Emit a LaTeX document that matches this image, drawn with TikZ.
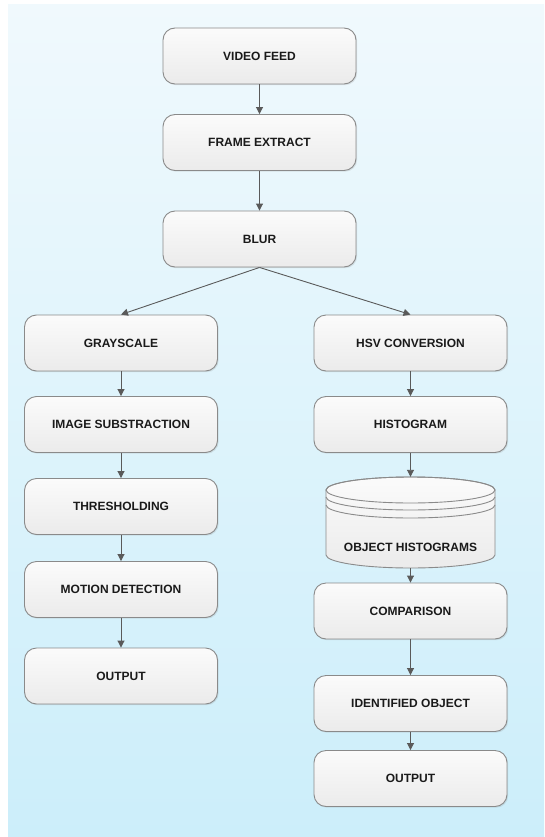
\documentclass[tikz,border=0pt]{standalone}
\usepackage{fontspec}
\setmainfont{Liberation Sans}
\usetikzlibrary{arrows.meta,shadows}

\definecolor{bgtop}{HTML}{F0F9FD}
\definecolor{bgbot}{HTML}{CCEEFA}
\definecolor{boxtop}{HTML}{FBFBFB}
\definecolor{boxbot}{HTML}{EBEBEB}
\definecolor{boxline}{HTML}{8A8A8A}
\definecolor{flow}{HTML}{5A5A5A}
\definecolor{ink}{HTML}{1A1A1A}

\tikzset{
  boxtext/.style={font=\fontsize{12}{14}\selectfont\bfseries, text=ink},
  stepbox/.style={boxtext, rectangle, rounded corners=12pt, draw=boxline,
    line width=0.9pt, top color=boxtop, bottom color=boxbot,
    minimum width=193pt, minimum height=56pt,
    drop shadow={opacity=0.18, shadow xshift=1.2pt, shadow yshift=-1.2pt}},
  flowarrow/.style={-{Triangle[length=7pt,width=7pt]}, draw=flow, line width=0.9pt},
}

\begin{document}
\begin{tikzpicture}[x=1pt,y=-1pt]
  % canvas 544 x 837 px, y runs downwards
  \useasboundingbox (0,0) rectangle (544,837);
  \fill[white] (0,0) rectangle (544,837);
  \shade[top color=bgtop, bottom color=bgbot] (8,5) rectangle (544,836);

  % -- common trunk --
  \node[stepbox] (video) at (259.5,56)  {VIDEO FEED};
  \node[stepbox] (frame) at (259.5,142.5) {FRAME EXTRACT};
  \node[stepbox] (blur)  at (259.5,239) {BLUR};

  % -- left branch: motion --
  \node[stepbox] (gray)   at (121,343)   {GRAYSCALE};
  \node[stepbox] (subtr)  at (121,424.5) {IMAGE SUBSTRACTION};
  \node[stepbox] (thresh) at (121,506.5) {THRESHOLDING};
  \node[stepbox] (motion) at (121,589.5) {MOTION DETECTION};
  \node[stepbox] (outl)   at (121,676)   {OUTPUT};

  % -- right branch: colour --
  \node[stepbox] (hsv)   at (410.5,343)   {HSV CONVERSION};
  \node[stepbox] (hist)  at (410.5,424.5) {HISTOGRAM};
  \node[stepbox] (comp)  at (410.5,611)   {COMPARISON};
  \node[stepbox] (ident) at (410.5,703.5) {IDENTIFIED OBJECT};
  \node[stepbox] (outr)  at (410.5,778.5) {OUTPUT};

  % -- database cylinder --
  \node[minimum width=169pt, minimum height=91pt, inner sep=0pt] (db) at (410.5,522.5) {};
  \shade[top color=boxtop, bottom color=boxbot, draw=boxline, line width=0.9pt]
    (326,490) -- (326,555) arc (180:360:84.5pt and 13pt) -- (495,490)
    arc (0:180:84.5pt and 13pt) -- cycle;
  \draw[boxline, line width=0.9pt] (410.5,490) ellipse [x radius=84.5pt, y radius=13pt];
  \foreach \yy in {497,505}{
    \draw[boxline, line width=0.9pt] (326,\yy) arc (180:360:84.5pt and 13pt); }
  \node[boxtext] (dbtext) at (410.5,547) {OBJECT HISTOGRAMS};

  % -- connectors --
  \draw[flowarrow] (video) -- (frame);
  \draw[flowarrow] (frame) -- (blur);
  \draw[flowarrow] (blur.south) -- (gray.north);
  \draw[flowarrow] (blur.south) -- (hsv.north);
  \draw[flowarrow] (gray) -- (subtr);
  \draw[flowarrow] (subtr) -- (thresh);
  \draw[flowarrow] (thresh) -- (motion);
  \draw[flowarrow] (motion) -- (outl);
  \draw[flowarrow] (hsv) -- (hist);
  \draw[flowarrow] (hist.south) -- (db.north);
  \draw[flowarrow] (db.south) -- (comp.north);
  \draw[flowarrow] (comp) -- (ident);
  \draw[flowarrow] (ident) -- (outr);
\end{tikzpicture}
\end{document}
